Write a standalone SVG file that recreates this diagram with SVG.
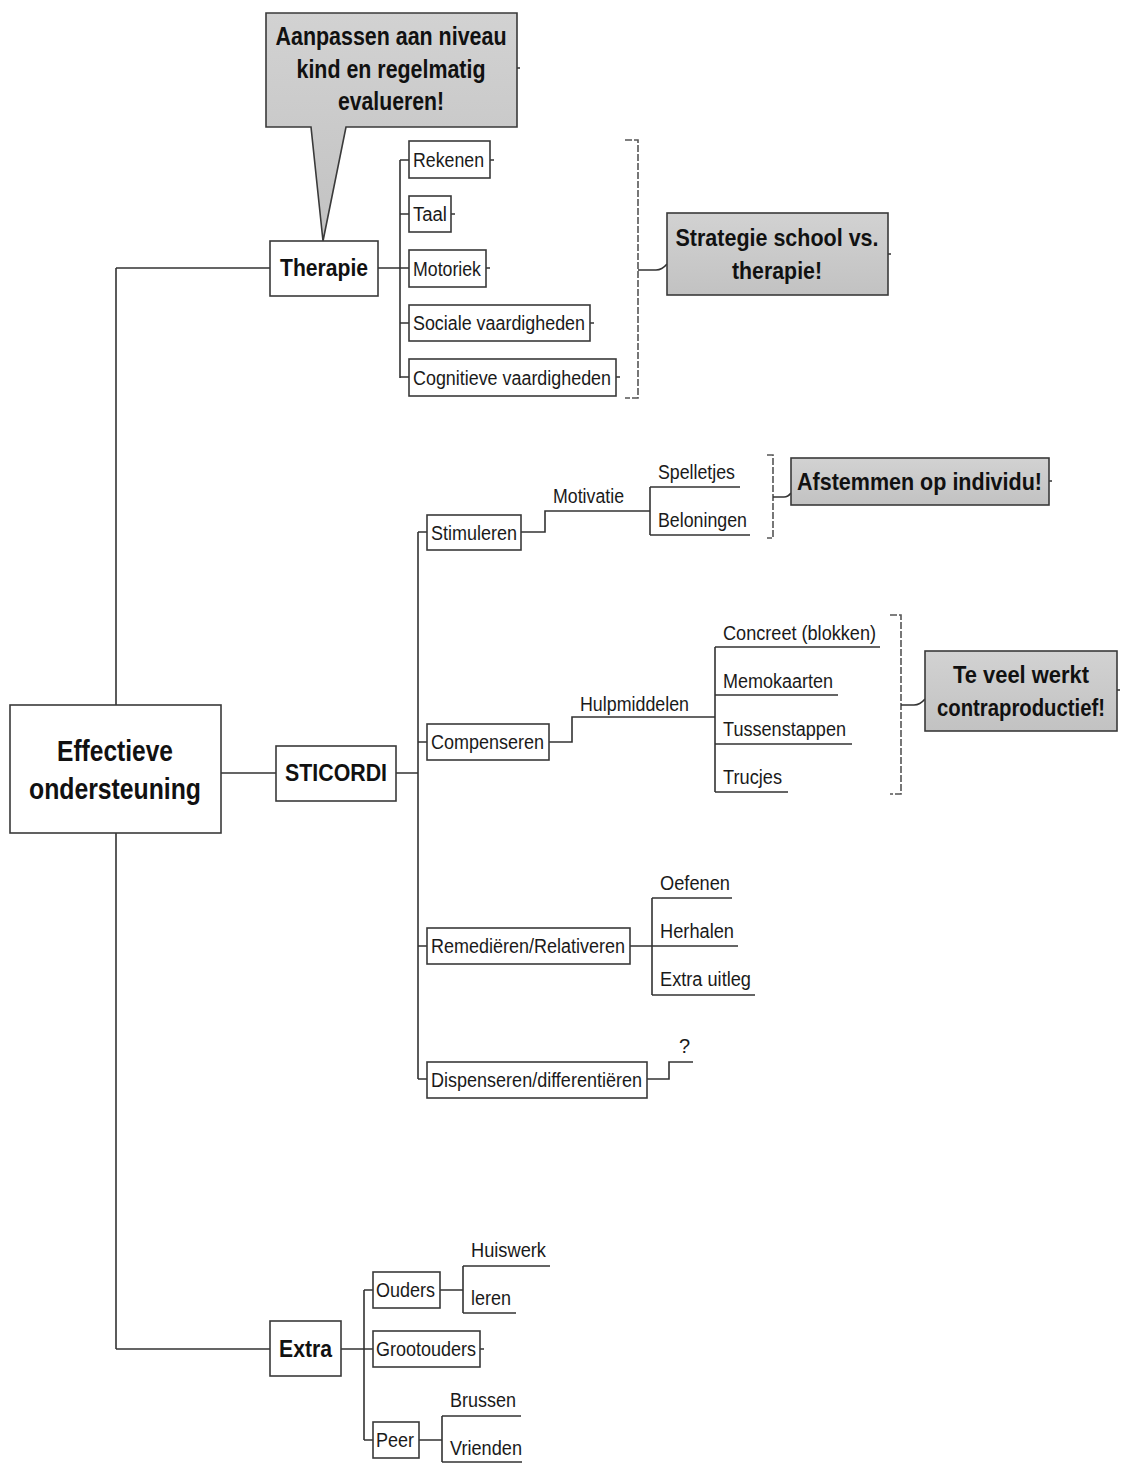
<svg xmlns="http://www.w3.org/2000/svg" width="1125" height="1464" viewBox="0 0 1125 1464">
  <defs>
    <linearGradient id="calloutFill" x1="0" y1="0" x2="0" y2="1">
      <stop offset="0" stop-color="#d2d2d2"/>
      <stop offset="1" stop-color="#c2c2c2"/>
    </linearGradient>
    <style>
      .box { fill: #ffffff; stroke: #3a3a3a; stroke-width: 1.6; }
      .callout { fill: url(#calloutFill); stroke: #3a3a3a; stroke-width: 1.6; }
      .line { fill: none; stroke: #333333; stroke-width: 1.6; }
      .bracket { fill: none; stroke: #555555; stroke-width: 1.6; stroke-dasharray: 7 2; }
      .t { font-family: "Liberation Sans Narrow", "Liberation Sans", Arial, sans-serif; fill: #1a1a1a; font-size: 20px; }
      .b { font-family: "Liberation Sans Narrow", "Liberation Sans", Arial, sans-serif; fill: #111111; font-weight: bold; }
      .mid { text-anchor: middle; }
    </style>
  </defs>
  <rect width="1125" height="1464" fill="#ffffff"/>

  <!-- connectors -->
  <g id="connectors">
    <!-- root trunk -->
    <path class="line" d="M116 268 V705 M116 833 V1349 M116 268 H270 M116 1349 H270 M221 773 H276"/>
    <!-- Therapie branch -->
    <path class="line" d="M378 268 H400 M400 160 V378 M400 160 H409 M400 214 H409 M400 268 H409 M400 323 H409 M400 377 H409"/>
    <path class="line" d="M490 160 H494 M451 214 H455 M486 268 H490 M590 323 H594 M616 377 H620"/>
    <!-- STICORDI branch -->
    <path class="line" d="M396 773 H418 M418 532 V1079 M418 532 H427 M418 742 H427 M418 946 H427 M418 1079 H427"/>
    <!-- Stimuleren / Motivatie -->
    <path class="line" d="M521 532 H545 V511 H650 M650 487 V535 M650 487 H740 M650 535 H750"/>
    <!-- Compenseren / Hulpmiddelen -->
    <path class="line" d="M549 742 H572 V717 H715 M715 647 V792 M715 647 H880 M715 695 H838 M715 744 H852 M715 792 H788"/>
    <!-- Remediëren -->
    <path class="line" d="M630 946 H652 M652 898 V995 M652 898 H732 M652 946 H738 M652 995 H755"/>
    <!-- Dispenseren -->
    <path class="line" d="M647 1079 H669 V1062 H693"/>
    <!-- Extra branch -->
    <path class="line" d="M341 1349 H364 M364 1290 V1440 M364 1290 H373 M364 1349 H373 M364 1440 H373"/>
    <path class="line" d="M440 1290 H463 M463 1266 V1313 M463 1266 H550 M463 1313 H516 M480 1349 H484"/>
    <path class="line" d="M419 1440 H442 M442 1416 V1462 M442 1416 H521 M442 1462 H522"/>
    <!-- summary brackets -->
    <path class="bracket" d="M625 140 H638 V398 H625"/>
    <path class="bracket" d="M767 455 H773 V538 H767"/>
    <path class="bracket" d="M890 615 H901 V794 H890"/>
    <path class="line" d="M638 270 H656 Q662 270 667 264"/>
    <path class="line" d="M773 497 H784 Q788 497 791 493"/>
    <path class="line" d="M901 705 H914 Q920 705 925 699"/>
    <!-- small stubs on callouts -->
    <path class="line" d="M517 68 H520 M888 254 H891 M1049 481 H1052 M1117 690 H1120"/>
  </g>

  <!-- root -->
  <g id="root">
    <rect class="box" x="10" y="705" width="211" height="128"/>
    <text class="b mid" x="115" y="761" font-size="29" textLength="116" lengthAdjust="spacingAndGlyphs">Effectieve</text>
    <text class="b mid" x="115" y="799" font-size="29" textLength="172" lengthAdjust="spacingAndGlyphs">ondersteuning</text>
  </g>

  <!-- callout on Therapie -->
  <g id="callout-aanpassen">
    <path class="callout" d="M266 13 H517 V127 H346 L323 241 L311 127 H266 Z"/>
    <text class="b mid" x="391" y="45" font-size="25" textLength="231" lengthAdjust="spacingAndGlyphs">Aanpassen aan niveau</text>
    <text class="b mid" x="391" y="78" font-size="25" textLength="189" lengthAdjust="spacingAndGlyphs">kind en regelmatig</text>
    <text class="b mid" x="391" y="110" font-size="25" textLength="106" lengthAdjust="spacingAndGlyphs">evalueren!</text>
  </g>

  <g id="therapie">
    <rect class="box" x="270" y="241" width="108" height="55"/>
    <text class="b" x="280" y="276" font-size="23" textLength="88" lengthAdjust="spacingAndGlyphs">Therapie</text>
  </g>
  <g id="rekenen">
    <rect class="box" x="409" y="141" width="81" height="37"/>
    <text class="t" x="413" y="167" textLength="71" lengthAdjust="spacingAndGlyphs">Rekenen</text>
  </g>
  <g id="taal">
    <rect class="box" x="409" y="196" width="42" height="36"/>
    <text class="t" x="413" y="221" textLength="34" lengthAdjust="spacingAndGlyphs">Taal</text>
  </g>
  <g id="motoriek">
    <rect class="box" x="409" y="250" width="77" height="37"/>
    <text class="t" x="413" y="276" textLength="68" lengthAdjust="spacingAndGlyphs">Motoriek</text>
  </g>
  <g id="sociale">
    <rect class="box" x="409" y="305" width="181" height="36"/>
    <text class="t" x="413" y="330" textLength="172" lengthAdjust="spacingAndGlyphs">Sociale vaardigheden</text>
  </g>
  <g id="cognitieve">
    <rect class="box" x="409" y="359" width="207" height="37"/>
    <text class="t" x="413" y="385" textLength="198" lengthAdjust="spacingAndGlyphs">Cognitieve vaardigheden</text>
  </g>
  <g id="callout-strategie">
    <rect class="callout" x="667" y="213" width="221" height="82"/>
    <text class="b mid" x="777" y="246" font-size="24" textLength="203" lengthAdjust="spacingAndGlyphs">Strategie school vs.</text>
    <text class="b mid" x="777" y="279" font-size="24" textLength="90" lengthAdjust="spacingAndGlyphs">therapie!</text>
  </g>

  <g id="sticordi">
    <rect class="box" x="276" y="746" width="120" height="55"/>
    <text class="b" x="285" y="781" font-size="23" textLength="102" lengthAdjust="spacingAndGlyphs">STICORDI</text>
  </g>

  <g id="stimuleren">
    <rect class="box" x="427" y="515" width="94" height="35"/>
    <text class="t" x="431" y="540" textLength="86" lengthAdjust="spacingAndGlyphs">Stimuleren</text>
  </g>
  <g id="motivatie">
    <text class="t" x="553" y="503" textLength="71" lengthAdjust="spacingAndGlyphs">Motivatie</text>
  </g>
  <g id="spelletjes">
    <text class="t" x="658" y="479" textLength="77" lengthAdjust="spacingAndGlyphs">Spelletjes</text>
  </g>
  <g id="beloningen">
    <text class="t" x="658" y="527" textLength="89" lengthAdjust="spacingAndGlyphs">Beloningen</text>
  </g>
  <g id="callout-afstemmen">
    <rect class="callout" x="791" y="458" width="258" height="47"/>
    <text class="b" x="797" y="490" font-size="24" textLength="245" lengthAdjust="spacingAndGlyphs">Afstemmen op individu!</text>
  </g>

  <g id="compenseren">
    <rect class="box" x="427" y="724" width="122" height="36"/>
    <text class="t" x="431" y="749" textLength="113" lengthAdjust="spacingAndGlyphs">Compenseren</text>
  </g>
  <g id="hulpmiddelen">
    <text class="t" x="580" y="711" textLength="109" lengthAdjust="spacingAndGlyphs">Hulpmiddelen</text>
  </g>
  <g id="concreet">
    <text class="t" x="723" y="640" textLength="153" lengthAdjust="spacingAndGlyphs">Concreet (blokken)</text>
  </g>
  <g id="memokaarten">
    <text class="t" x="723" y="688" textLength="110" lengthAdjust="spacingAndGlyphs">Memokaarten</text>
  </g>
  <g id="tussenstappen">
    <text class="t" x="723" y="736" textLength="123" lengthAdjust="spacingAndGlyphs">Tussenstappen</text>
  </g>
  <g id="trucjes">
    <text class="t" x="723" y="784" textLength="59" lengthAdjust="spacingAndGlyphs">Trucjes</text>
  </g>
  <g id="callout-teveel">
    <rect class="callout" x="925" y="651" width="192" height="80"/>
    <text class="b mid" x="1021" y="683" font-size="24" textLength="136" lengthAdjust="spacingAndGlyphs">Te veel werkt</text>
    <text class="b mid" x="1021" y="716" font-size="23" textLength="168" lengthAdjust="spacingAndGlyphs">contraproductief!</text>
  </g>

  <g id="remedieren">
    <rect class="box" x="427" y="928" width="203" height="36"/>
    <text class="t" x="431" y="953" textLength="194" lengthAdjust="spacingAndGlyphs">Remediëren/Relativeren</text>
  </g>
  <g id="oefenen">
    <text class="t" x="660" y="890" textLength="70" lengthAdjust="spacingAndGlyphs">Oefenen</text>
  </g>
  <g id="herhalen">
    <text class="t" x="660" y="938" textLength="74" lengthAdjust="spacingAndGlyphs">Herhalen</text>
  </g>
  <g id="extra-uitleg">
    <text class="t" x="660" y="986" textLength="91" lengthAdjust="spacingAndGlyphs">Extra uitleg</text>
  </g>

  <g id="dispenseren">
    <rect class="box" x="427" y="1062" width="220" height="36"/>
    <text class="t" x="431" y="1087" textLength="211" lengthAdjust="spacingAndGlyphs">Dispenseren/differentiëren</text>
  </g>
  <g id="vraag">
    <text class="t" x="679" y="1053">?</text>
  </g>

  <g id="extra">
    <rect class="box" x="270" y="1321" width="71" height="55"/>
    <text class="b" x="279" y="1357" font-size="23" textLength="53" lengthAdjust="spacingAndGlyphs">Extra</text>
  </g>
  <g id="ouders">
    <rect class="box" x="373" y="1272" width="67" height="36"/>
    <text class="t" x="376" y="1297" textLength="59" lengthAdjust="spacingAndGlyphs">Ouders</text>
  </g>
  <g id="huiswerk">
    <text class="t" x="471" y="1257" textLength="75" lengthAdjust="spacingAndGlyphs">Huiswerk</text>
  </g>
  <g id="leren">
    <text class="t" x="471" y="1305" textLength="40" lengthAdjust="spacingAndGlyphs">leren</text>
  </g>
  <g id="grootouders">
    <rect class="box" x="373" y="1331" width="107" height="36"/>
    <text class="t" x="376" y="1356" textLength="100" lengthAdjust="spacingAndGlyphs">Grootouders</text>
  </g>
  <g id="peer">
    <rect class="box" x="373" y="1422" width="46" height="36"/>
    <text class="t" x="376" y="1447" textLength="38" lengthAdjust="spacingAndGlyphs">Peer</text>
  </g>
  <g id="brussen">
    <text class="t" x="450" y="1407" textLength="66" lengthAdjust="spacingAndGlyphs">Brussen</text>
  </g>
  <g id="vrienden">
    <text class="t" x="450" y="1455" textLength="72" lengthAdjust="spacingAndGlyphs">Vrienden</text>
  </g>
</svg>
